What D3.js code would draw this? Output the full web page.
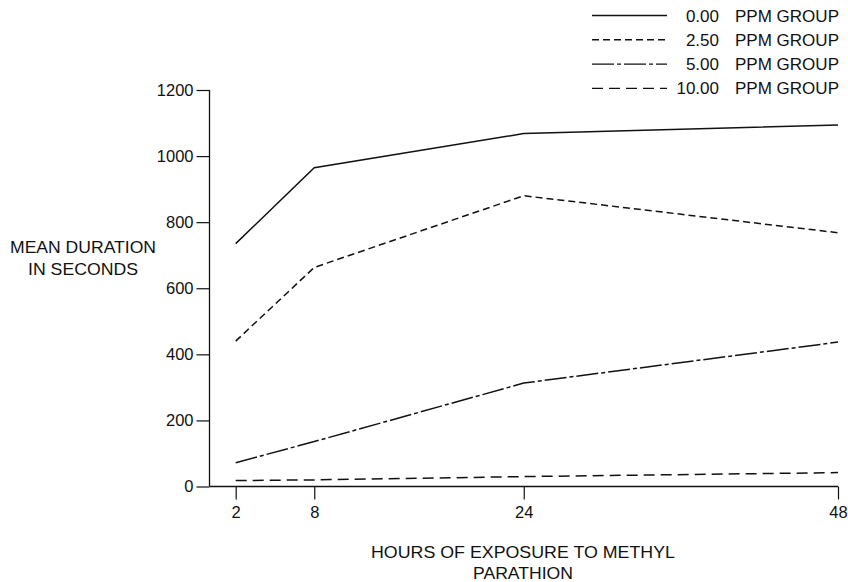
<!DOCTYPE html>
<html><head><meta charset="utf-8">
<script src="https://cdn.jsdelivr.net/npm/d3@7"></script>
<style>
html,body{margin:0;padding:0;background:#fff;}
text{font-family:"Liberation Sans",Arial,Helvetica,sans-serif;fill:#111;}
</style></head>
<body><svg id="c" width="848" height="582"></svg>
<script>
const hours = [2, 8, 24, 48];
const groupValues = ["0.00", "2.50", "5.00", "10.00"];
const groupSuffix = "PPM GROUP";
const ppm000 = [735, 965, 1068, 1094];
const ppm250 = [440, 663, 880, 768];
const ppm500 = [72, 136, 313, 437];
const ppm1000 = [18, 20, 30, 42];
const yTicks = [0, 200, 400, 600, 800, 1000, 1200];
const xTicks = [2, 8, 24, 48];
const dashes = [null, "7,4", "22,3,4,3", "11,6"];
const seriesData = [ppm000, ppm250, ppm500, ppm1000];

const svg = d3.select("#c");
const x = d3.scaleLinear().domain([0, 48]).range([209.5, 838]);
const y = d3.scaleLinear().domain([0, 1200]).range([486.5, 90]);
const FF = '"Liberation Sans",Arial,sans-serif';

// y axis
const ya = svg.append("g").attr("transform", "translate(209.5,0)")
  .call(d3.axisLeft(y).tickValues(yTicks).tickSize(13).tickPadding(3).tickFormat(d3.format("d")));
ya.select(".domain").attr("d", `M0,${y(0)}V${y(1200)}`).attr("stroke", "#111").attr("stroke-width", 1.3);
ya.selectAll(".tick line").attr("stroke", "#111").attr("stroke-width", 1.2);
ya.selectAll(".tick text").attr("font-size", 16.5).style("font-family", FF).attr("fill", "#111");

// x axis
const xa = svg.append("g").attr("transform", `translate(0,${y(0)})`)
  .call(d3.axisBottom(x).tickValues(xTicks).tickSize(13).tickPadding(7).tickFormat(d3.format("d")));
xa.select(".domain").attr("d", `M${x(0)},0H${x(48)}`).attr("stroke", "#111").attr("stroke-width", 1.3);
xa.selectAll(".tick line").attr("stroke", "#111").attr("stroke-width", 1.2);
xa.selectAll(".tick text").attr("font-size", 16.5).style("font-family", FF).attr("fill", "#111");

// lines
const line = d3.line().x((d, i) => x(hours[i])).y(d => y(d));
seriesData.forEach((s, k) => {
  const p = svg.append("path").datum(s).attr("d", line)
    .attr("fill", "none").attr("stroke", "#111").attr("stroke-width", 1.5);
  if (dashes[k]) p.attr("stroke-dasharray", dashes[k]);
});

// legend
const lg = svg.append("g");
groupValues.forEach((t, k) => {
  const yy = 15.5 + k * 24.3;
  const l = lg.append("line").attr("x1", 592).attr("x2", 667).attr("y1", yy).attr("y2", yy)
    .attr("stroke", "#111").attr("stroke-width", 1.4);
  if (dashes[k]) l.attr("stroke-dasharray", dashes[k]);
  lg.append("text").attr("x", 719).attr("y", yy + 6).attr("text-anchor", "end")
    .attr("font-size", 17).text(t);
  lg.append("text").attr("x", 735).attr("y", yy + 6).attr("text-anchor", "start")
    .attr("font-size", 17).attr("textLength", 104).attr("lengthAdjust", "spacingAndGlyphs").text(groupSuffix);
});

// axis titles
const yt1 = svg.append("text").attr("text-anchor", "middle").attr("font-size", 17)
  .attr("x", 83).attr("y", 253).attr("textLength", 146).attr("lengthAdjust", "spacingAndGlyphs").text("MEAN DURATION");
const yt2 = svg.append("text").attr("text-anchor", "middle").attr("font-size", 17)
  .attr("x", 83).attr("y", 275).attr("textLength", 110).attr("lengthAdjust", "spacingAndGlyphs").text("IN SECONDS");
svg.append("text").attr("text-anchor", "middle").attr("font-size", 17)
  .attr("x", 523).attr("y", 558).attr("textLength", 304).attr("lengthAdjust", "spacingAndGlyphs").text("HOURS OF EXPOSURE TO METHYL");
svg.append("text").attr("text-anchor", "middle").attr("font-size", 17)
  .attr("x", 523).attr("y", 579).attr("textLength", 100).attr("lengthAdjust", "spacingAndGlyphs").text("PARATHION");
</script></body></html>
